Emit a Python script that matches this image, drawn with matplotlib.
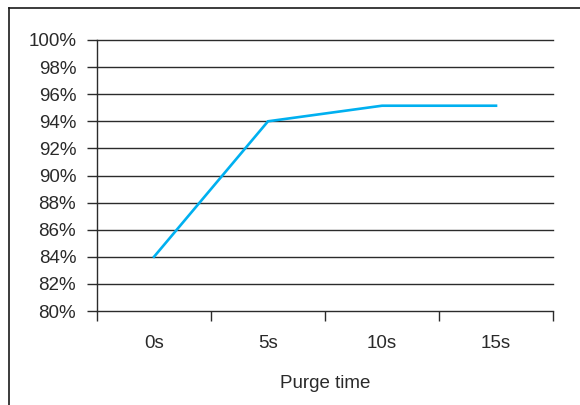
import matplotlib.pyplot as plt
from matplotlib.lines import Line2D
import numpy as np

# purge time vs. rate
purge_labels = ['0s', '5s', '10s', '15s']
rate_pct = [84.0, 94.0, 95.15, 95.15]
y_ticks = [80, 82, 84, 86, 88, 90, 92, 94, 96, 98, 100]

LINE_COLOR = '#00b0f0'
GRID_COLOR = '#2b2b2b'
TEXT_COLOR = '#2a2a2a'
FONT_SIZE = 13.5

plt.rcParams['font.family'] = ['Liberation Sans', 'DejaVu Sans']

fig = plt.figure(figsize=(5.8, 4.05), dpi=100)
ax = fig.add_axes([97 / 580, 94 / 405, 456 / 580, 271 / 405])

x = np.arange(len(purge_labels))
ax.plot(x, rate_pct, color=LINE_COLOR, lw=1.9, solid_joinstyle='miter', zorder=3)

ax.set_xlim(-0.5, len(purge_labels) - 0.5)
ax.set_ylim(y_ticks[0], y_ticks[-1])

for v in y_ticks:
    ax.axhline(v, color=GRID_COLOR, lw=1.0, zorder=1, clip_on=False)

ax.set_yticks(y_ticks)
ax.set_yticklabels(['%d%%' % v for v in y_ticks], fontsize=FONT_SIZE, color=TEXT_COLOR)
ax.tick_params(axis='y', length=7, width=1.0, color=GRID_COLOR, pad=8)

# category labels centred, tick marks on category boundaries
ax.set_xticks(x)
ax.set_xticklabels(purge_labels, fontsize=FONT_SIZE, color=TEXT_COLOR)
ax.tick_params(axis='x', which='major', length=0, pad=17)
ax.set_xticks(np.arange(-0.5, len(purge_labels)), minor=True)
ax.tick_params(axis='x', which='minor', length=7, width=1.0, color=GRID_COLOR)

ax.set_xlabel('Purge time', fontsize=FONT_SIZE, color=TEXT_COLOR, labelpad=17)

for side in ['top', 'right', 'bottom']:
    ax.spines[side].set_visible(False)
ax.spines['left'].set_color(GRID_COLOR)
ax.spines['left'].set_linewidth(1.0)

# chart frame (left and top edge)
fig.add_artist(Line2D([9 / 580, 9 / 580], [0, 1 - 8 / 405], color='#1a1a1a', lw=1.2,
                      transform=fig.transFigure))
fig.add_artist(Line2D([9 / 580, 1], [1 - 8 / 405, 1 - 8 / 405], color='#1a1a1a', lw=1.2,
                      transform=fig.transFigure))

fig.savefig('out.png', dpi=100)
